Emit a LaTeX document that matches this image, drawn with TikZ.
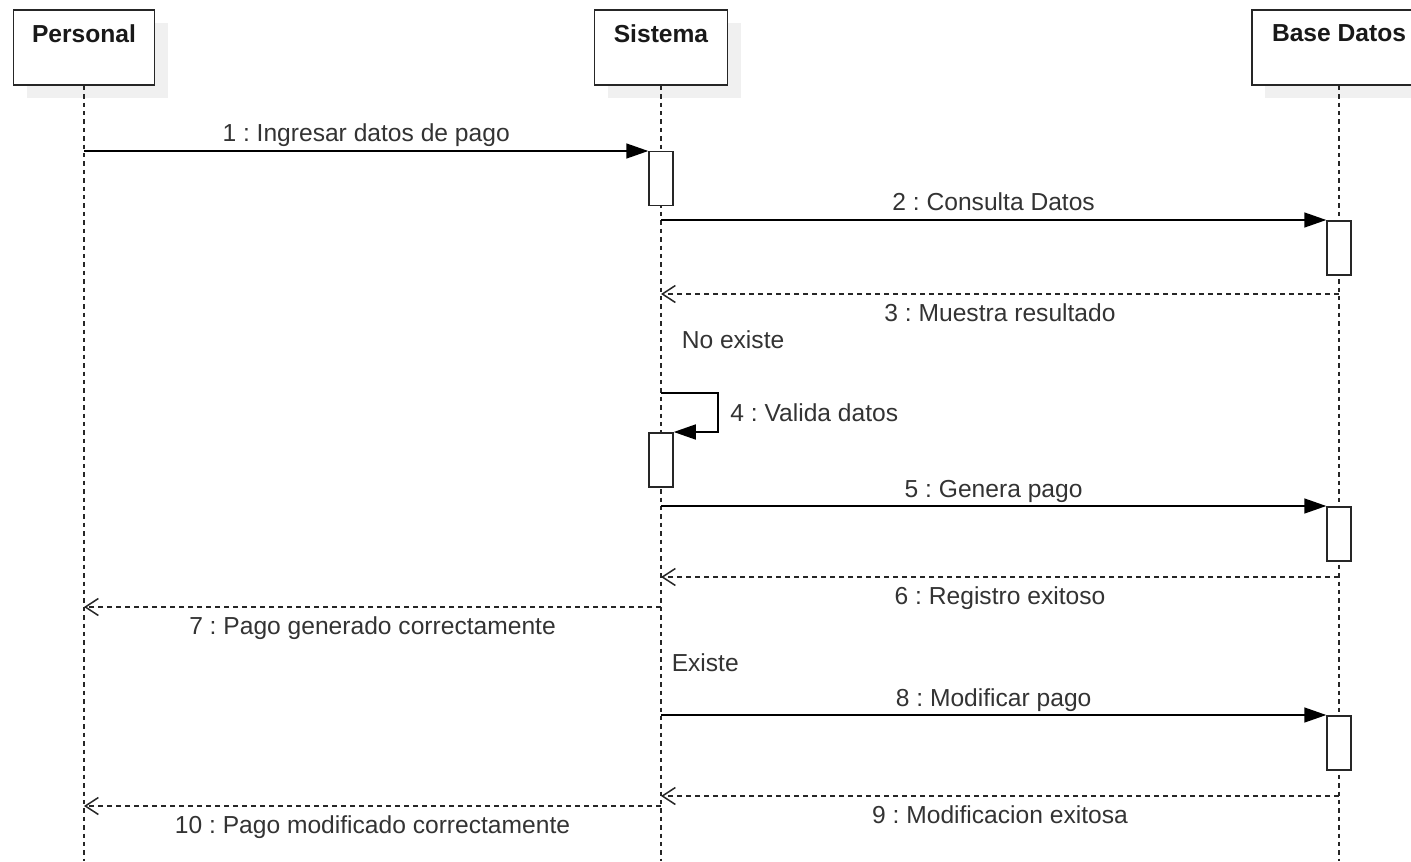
\documentclass[tikz,border=0pt]{standalone}
\usepackage{fontspec}
\setmainfont{Liberation Sans}
\usetikzlibrary{arrows.meta, positioning, shadows}
\frenchspacing

\tikzset{
  actor/.style={draw=black!85, fill=white, line width=0.9pt, minimum height=37.5pt,
    drop shadow={shadow xshift=6.5pt, shadow yshift=-6.5pt, fill=black!6, opacity=1}},
  actorname/.style={anchor=north, inner sep=0pt, yshift=-7.5pt, text=black!90,
    font=\fontsize{12.3}{14.8}\selectfont\bfseries},
  lifeline/.style={draw=black!85, dash pattern=on 2.2pt off 2pt},
  activation/.style={draw=black!85, fill=white, minimum width=12pt, minimum height=27pt,
    inner sep=0pt, anchor=north},
  call/.style={draw=black, -{Triangle[length=11pt, width=7.5pt]}},
  reply/.style={draw=black!85, dash pattern=on 2.5pt off 2pt, -{Straight Barb[length=6.5pt, width=8.5pt]}},
  msg/.style={midway, anchor=base, yshift=4.5pt},
  msgback/.style={midway, anchor=base, yshift=-13.5pt},
  guard/.style={anchor=west, inner sep=0pt},
}

\begin{document}
\begin{tikzpicture}[x=0.5pt, y=-0.5pt, line width=0.75pt,
    font=\fontsize{12.3}{14.8}\selectfont, text=black!80]
    \clip (0,0) rectangle (1411,861);
    \coordinate (bottom) at (0,861);

    % participants
    \node[actor, minimum width=70.5pt, label={[actorname]north:Personal}] (personal) at (84,47.5) {};
    \node[actor, minimum width=66.5pt, label={[actorname]north:Sistema}] (sistema) at (661,47.5) {};
    \node[actor, minimum width=87pt, label={[actorname]north:Base Datos}] (basedatos) at (1339,47.5) {};

    \draw[lifeline] (personal.south) -- (personal.south |- bottom);
    \draw[lifeline] (sistema.south) -- (sistema.south |- bottom);
    \draw[lifeline] (basedatos.south) -- (basedatos.south |- bottom);

    % activations
    \node[activation] (act1) at (661,151) {};
    \node[activation] (act2) at (1339,220) {};
    \node[activation] (act3) at (661,432) {};
    \node[activation] (act4) at (1339,506) {};
    \node[activation] (act5) at (1339,715) {};

    \coordinate (r3) at (0,294);
    \coordinate (s4) at (661,393);
    \coordinate (r6) at (0,577);
    \coordinate (r7) at (0,607);
    \coordinate (r9) at (0,796);
    \coordinate (r10) at (0,806);

    % messages
    \draw[call] (personal |- act1.north west) -- node[msg] (l1) {1 : Ingresar datos de pago} (act1.north west);
    \draw[call] (sistema |- act2.north west) -- node[msg] (l2) {2 : Consulta Datos} (act2.north west);
    \draw[reply] (basedatos |- r3) -- node[msgback] (l3) {3 : Muestra resultado} (sistema |- r3);
    \node[guard] (noexiste) at (681,340) {No existe};
    \draw[call] (s4) -- ++(57,0) |- node[pos=0.25, right=2.5pt] (l4) {4 : Valida datos} (act3.north east);
    \draw[call] (sistema |- act4.north west) -- node[msg] (l5) {5 : Genera pago} (act4.north west);
    \draw[reply] (basedatos |- r6) -- node[msgback] (l6) {6 : Registro exitoso} (sistema |- r6);
    \draw[reply] (sistema |- r7) -- node[msgback] (l7) {7 : Pago generado correctamente} (personal |- r7);
    \node[guard] (existe) at (671,663) {Existe};
    \draw[call] (sistema |- act5.north west) -- node[msg] (l8) {8 : Modificar pago} (act5.north west);
    \draw[reply] (basedatos |- r9) -- node[msgback] (l9) {9 : Modificacion exitosa} (sistema |- r9);
    \draw[reply] (sistema |- r10) -- node[msgback] (l10) {10 : Pago modificado correctamente} (personal |- r10);
\end{tikzpicture}
\end{document}
